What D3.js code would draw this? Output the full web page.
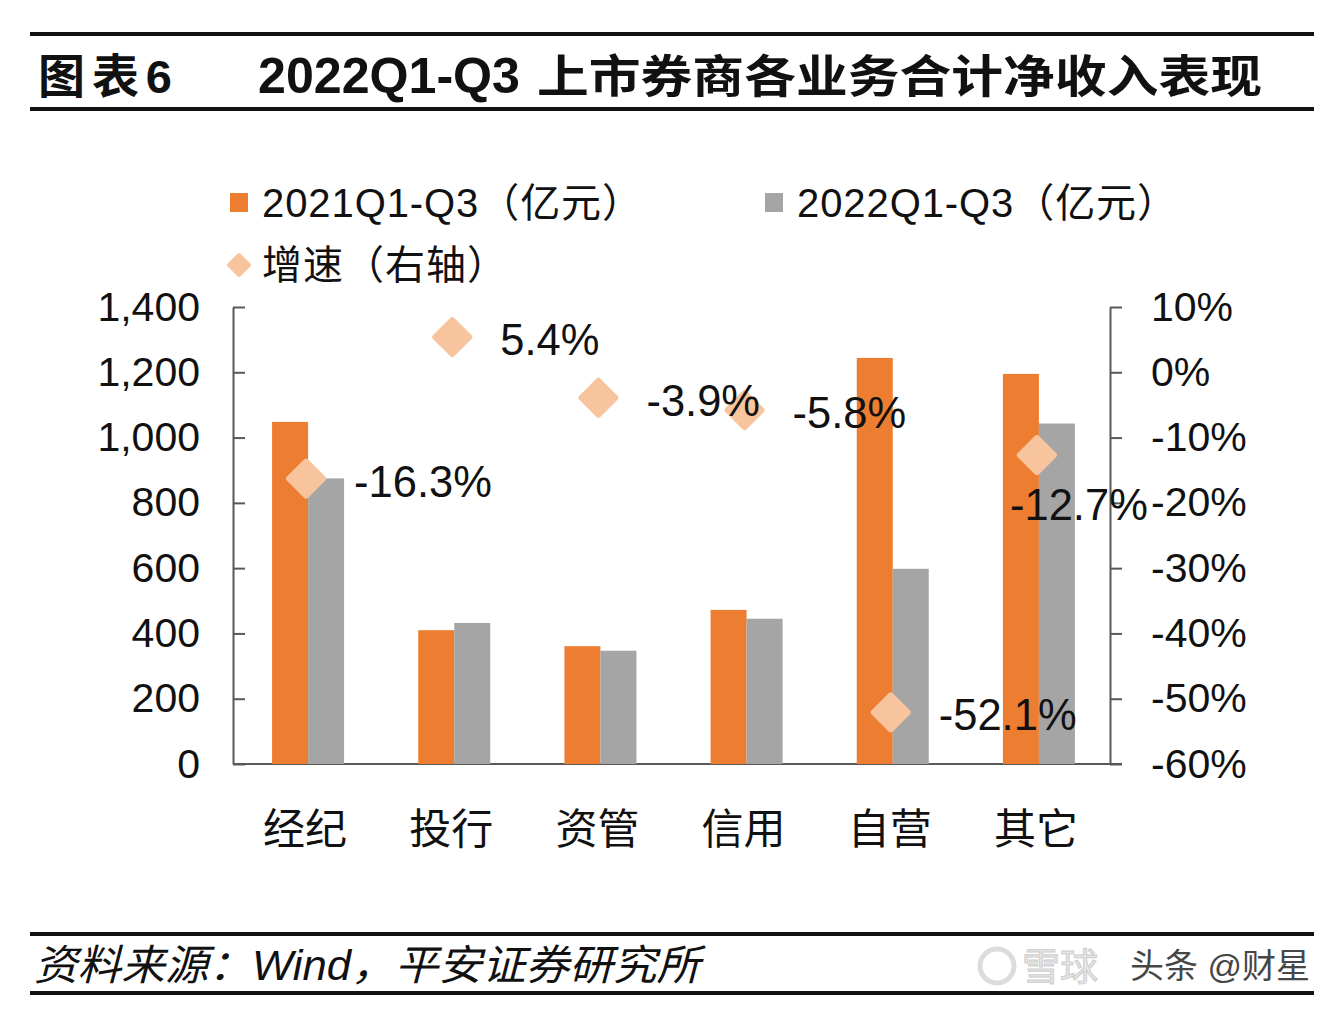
<!DOCTYPE html>
<html>
<head>
<meta charset="utf-8">
<script src="https://cdn.jsdelivr.net/npm/d3@7/dist/d3.min.js"></script>
<style>
  html, body { margin: 0; padding: 0; background: #fff; }
  svg { display: block; }
</style>
</head>
<body>
<script>
// ---------- data ----------
const categories = ["经纪", "投行", "资管", "信用", "自营", "其它"];
const series = ["2021Q1-Q3（亿元）", "2022Q1-Q3（亿元）"];
const values2021 = [1048, 410, 361, 472, 1244, 1195];
const values2022 = [875, 432, 347, 445, 598, 1043];
const growth = [-16.3, 5.4, -3.9, -5.8, -52.1, -12.7];
const growthLegend = "增速（右轴）";
const leftTicks = [0, 200, 400, 600, 800, 1000, 1200, 1400];
const rightTicks = [-60, -50, -40, -30, -20, -10, 0, 10];
const titleLeft = "图表6";
const titleLatin = "2022Q1-Q3";
const titleCJK = "上市券商各业务合计净收入表现";
const sourceText = "资料来源：Wind，平安证券研究所";

// ---------- setup ----------
const W = 1330, H = 1014;
const FONT = "'Liberation Sans', Arial, 'Noto Sans CJK SC', sans-serif";
const colors = ["#ED7D31", "#A5A5A5"];
const diamondColor = "#F8C49E";
const axisColor = "#595959";

const svg = d3.select("body").append("svg")
  .attr("width", W).attr("height", H)
  .style("font-family", FONT);
svg.append("rect").attr("width", W).attr("height", H).attr("fill", "#fff");

// ---------- title ----------
svg.append("rect").attr("x", 30).attr("y", 32).attr("width", 1284).attr("height", 4).attr("fill", "#111");
svg.append("rect").attr("x", 30).attr("y", 107).attr("width", 1284).attr("height", 4).attr("fill", "#111");
svg.append("text").attr("x", 38).attr("y", 93)
  .attr("font-size", 47).attr("font-weight", "bold").attr("fill", "#111")
  .attr("textLength", 134).attr("lengthAdjust", "spacing")
  .text(titleLeft);
svg.append("text").attr("x", 258).attr("y", 93)
  .attr("font-size", 50).attr("font-weight", "bold").attr("fill", "#111")
  .attr("textLength", 262).attr("lengthAdjust", "spacingAndGlyphs")
  .text(titleLatin);
svg.append("text").attr("x", 537).attr("y", 93)
  .attr("font-size", 45).attr("font-weight", "bold").attr("fill", "#111")
  .attr("textLength", 725).attr("lengthAdjust", "spacingAndGlyphs")
  .text(titleCJK);

// ---------- scales ----------
const plot = { left: 233, right: 1110, top: 307, bottom: 764 };
const x0 = d3.scaleBand().domain(categories).range([plot.left, plot.right]).paddingInner(0).paddingOuter(0);
const x1 = d3.scaleBand().domain(series).range([-34, 38]);
const yL = d3.scaleLinear().domain([0, 1400]).range([plot.bottom, plot.top]);
const yR = d3.scaleLinear().domain([-60, 10]).range([plot.bottom, plot.top]);

// ---------- axes ----------
const axL = svg.append("g").attr("transform", `translate(${plot.left},0)`)
  .call(d3.axisLeft(yL).tickValues(leftTicks).tickFormat(d3.format(",")).tickSizeInner(-12).tickSizeOuter(0).tickPadding(33));
const axR = svg.append("g").attr("transform", `translate(${plot.right},0)`)
  .call(d3.axisRight(yR).tickValues(rightTicks).tickFormat(d => d + "%").tickSizeInner(12).tickSizeOuter(0).tickPadding(29));
[axL, axR].forEach(g => {
  g.select(".domain").attr("stroke", axisColor).attr("stroke-width", 2);
  g.selectAll(".tick line").attr("stroke", axisColor).attr("stroke-width", 2);
  g.selectAll(".tick text").attr("font-size", 41).attr("fill", "#111").attr("font-family", FONT);
});
// category axis line
svg.append("line").attr("x1", plot.left).attr("x2", plot.right + 12)
  .attr("y1", plot.bottom).attr("y2", plot.bottom)
  .attr("stroke", axisColor).attr("stroke-width", 2);

// ---------- bars ----------
const barData = categories.map((c, i) => ({ c, vals: [values2021[i], values2022[i]] }));
const groups = svg.append("g").selectAll("g").data(barData).join("g")
  .attr("transform", d => `translate(${x0(d.c) + x0.bandwidth() / 2},0)`);
groups.selectAll("rect").data(d => d.vals.map((v, j) => ({ s: series[j], v, j }))).join("rect")
  .attr("x", d => x1(d.s))
  .attr("width", x1.bandwidth())
  .attr("y", d => yL(d.v))
  .attr("height", d => plot.bottom - yL(d.v))
  .attr("fill", d => colors[d.j]);

// ---------- diamonds ----------
const gData = categories.map((c, i) => ({ c, g: growth[i], cx: x0(c) + x0.bandwidth() / 2, cy: yR(growth[i]) }));
svg.append("g").selectAll("rect").data(gData).join("rect")
  .attr("x", -15).attr("y", -15).attr("width", 30).attr("height", 30).attr("rx", 3)
  .attr("transform", d => `translate(${d.cx},${d.cy}) rotate(45)`)
  .attr("fill", diamondColor);

// ---------- data labels ----------
const labels = svg.append("g").selectAll("text").data(gData).join("text")
  .attr("font-size", 43.5).attr("fill", "#111")
  .attr("dominant-baseline", "central")
  .text(d => d.g.toFixed(1) + "%");
labels.each(function (d) {
  const el = d3.select(this);
  const w = this.getComputedTextLength();
  if (d.cx + 48 + w > plot.right + 20) {
    el.attr("text-anchor", "middle").attr("x", d.cx + 42).attr("y", d.cy + 50);
  } else {
    el.attr("text-anchor", "start").attr("x", d.cx + 48).attr("y", d.cy + 3);
  }
});

// ---------- category labels ----------
svg.append("g").selectAll("text").data(categories).join("text")
  .attr("x", d => x0(d) + x0.bandwidth() / 2 - 1)
  .attr("y", 825)
  .attr("text-anchor", "middle").attr("dominant-baseline", "central")
  .attr("font-size", 42).attr("fill", "#111")
  .attr("font-family", "'Noto Sans CJK SC', sans-serif")
  .text(d => d);

// ---------- legend ----------
const legX = [230, 765];
series.forEach((s, i) => {
  svg.append("rect").attr("x", legX[i]).attr("y", 193).attr("width", 18).attr("height", 19).attr("fill", colors[i]);
  svg.append("text").attr("x", legX[i] + 32).attr("y", 203)
    .attr("dominant-baseline", "central").attr("font-size", 40).attr("fill", "#111")
    .attr("textLength", 380).attr("lengthAdjust", "spacing")
    .text(s);
});
svg.append("rect").attr("x", -9).attr("y", -9).attr("width", 18).attr("height", 18).attr("rx", 2)
  .attr("transform", "translate(239,265) rotate(45)").attr("fill", diamondColor);
svg.append("text").attr("x", 262).attr("y", 265)
  .attr("dominant-baseline", "central").attr("font-size", 40).attr("fill", "#111")
  .attr("textLength", 245).attr("lengthAdjust", "spacing")
  .text(growthLegend);

// ---------- footer ----------
svg.append("rect").attr("x", 30).attr("y", 932).attr("width", 1284).attr("height", 4).attr("fill", "#111");
svg.append("rect").attr("x", 30).attr("y", 991).attr("width", 1284).attr("height", 4).attr("fill", "#111");
svg.append("text").attr("x", 34).attr("y", 980)
  .attr("font-size", 42).attr("font-style", "italic").attr("fill", "#111")
  .attr("textLength", 666).attr("lengthAdjust", "spacingAndGlyphs")
  .text(sourceText);

// watermark
const wm = svg.append("g").attr("opacity", 0.9);
wm.append("circle").attr("cx", 997).attr("cy", 966).attr("r", 17).attr("fill", "none").attr("stroke", "#d8d8d8").attr("stroke-width", 5);
wm.append("text").attr("x", 1022).attr("y", 980).attr("font-size", 38).attr("fill", "#e4e4e4")
  .attr("stroke", "#c8c8c8").attr("stroke-width", 1).text("雪球");
wm.append("text").attr("x", 1130).attr("y", 978).attr("font-size", 34).attr("fill", "#333")
  .text("头条 @财星");
</script>
</body>
</html>
